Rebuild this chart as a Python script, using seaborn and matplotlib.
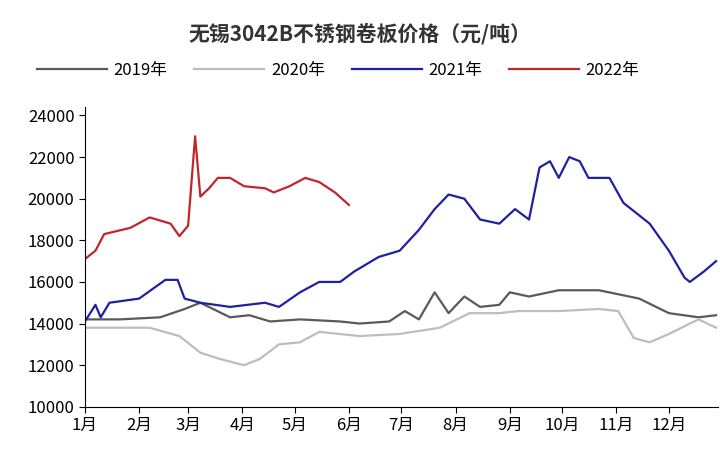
import matplotlib
matplotlib.use("Agg")
import matplotlib.pyplot as plt
import seaborn as sns
import pandas as pd

plt.rcParams["font.family"] = ["Noto Sans CJK SC"]

months = ["1月","2月","3月","4月","5月","6月","7月","8月","9月","10月","11月","12月"]
month_days = [0,31,59,90,120,151,181,212,243,273,304,334]

d2019 = [0,20,43,57,66,83,94,106,123,146,157,174,183,191,200,208,217,226,237,243,254,271,294,317,334,351,361]
v2019 = [14200,14200,14300,14700,15000,14300,14400,14100,14200,14100,14000,14100,14600,14200,15500,14500,15300,14800,14900,15500,15300,15600,15600,15200,14500,14300,14400]
d2020 = [0,37,54,66,77,91,100,111,123,134,157,180,203,220,237,248,271,294,305,314,323,334,346,351,361]
v2020 = [13800,13800,13400,12600,12300,12000,12300,13000,13100,13600,13400,13500,13800,14500,14500,14600,14600,14700,14600,13300,13100,13500,14000,14200,13800]
d2021 = [0,6,9,14,31,46,53,57,66,83,103,111,123,134,146,154,168,180,191,200,208,217,226,237,246,254,260,266,271,277,283,288,300,308,323,334,343,346,354,361]
v2021 = [14100,14900,14300,15000,15200,16100,16100,15200,15000,14800,15000,14800,15500,16000,16000,16500,17200,17500,18500,19500,20200,20000,19000,18800,19500,19000,21500,21800,21000,22000,21800,21000,21000,19800,18800,17500,16200,16000,16500,17000]
d2022 = [0,6,11,26,37,49,54,59,63,66,71,76,83,91,103,108,117,126,134,143,151]
v2022 = [17100,17500,18300,18600,19100,18800,18200,18700,23000,20100,20500,21000,21000,20600,20500,20300,20600,21000,20800,20300,19700]

frames = []
for name, d, v in [("2019年",d2019,v2019),("2020年",d2020,v2020),("2021年",d2021,v2021),("2022年",d2022,v2022)]:
    frames.append(pd.DataFrame({"day":d,"price":v,"year":name}))
df = pd.concat(frames)

palette = {"2019年":"#5a5a5a","2020年":"#bdbdbd","2021年":"#2020a0","2022年":"#c0262c"}

fig = plt.figure(figsize=(7.2,4.54), dpi=100)
ax = fig.add_axes([0.118,0.104,0.879,0.66])
sns.lineplot(data=df, x="day", y="price", hue="year", palette=palette, linewidth=1.6, ax=ax, legend=True)
ax.set_xlim(0,362)
ax.set_ylim(10000,24400)
ax.set_yticks(range(10000,24001,2000))
ax.set_xticks(month_days)
ax.set_xticklabels(months)
ax.set_xlabel(""); ax.set_ylabel("")
for s in ["top","right"]:
    ax.spines[s].set_visible(False)
ax.tick_params(labelsize=12, length=4)
h, l = ax.get_legend_handles_labels()
ax.legend(h, l, loc="upper center", bbox_to_anchor=(0.4,1.2), ncol=4, frameon=False, fontsize=12, handlelength=4.2, handletextpad=0.4, columnspacing=1.6)
fig.text(0.5,0.91,"无锡3042B不锈钢卷板价格（元/吨）", ha="center", fontsize=15, fontweight="bold", color="#333333")
fig.savefig("out.png", dpi=100)
